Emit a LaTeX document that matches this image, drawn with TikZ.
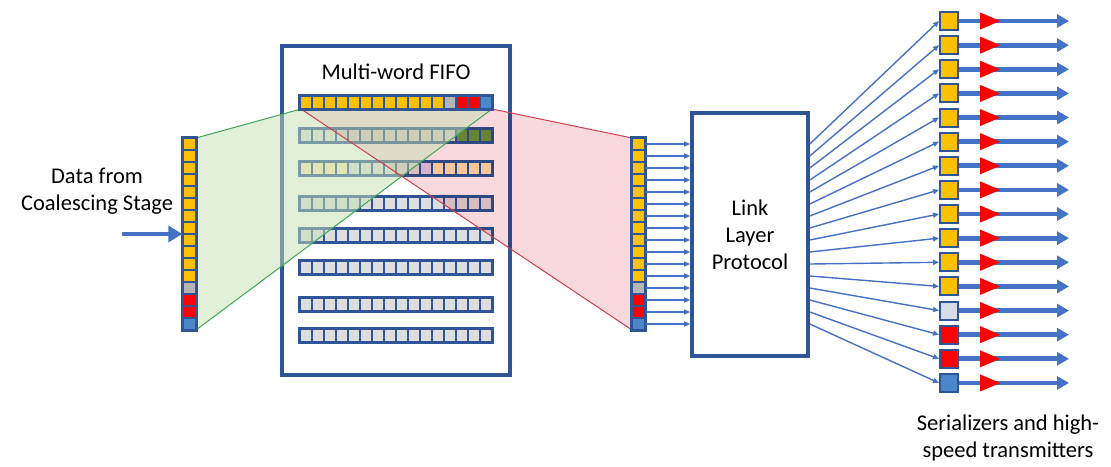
\documentclass[tikz,border=0pt]{standalone}
\usepackage{fontspec}
\setmainfont{Carlito}
\usetikzlibrary{arrows.meta,shapes.geometric}
\definecolor{navy}{HTML}{2F5597}
\definecolor{orng}{HTML}{FFC000}
\definecolor{gry}{HTML}{B4B4B4}
\definecolor{lgry}{HTML}{DEDEDE}
\definecolor{rd}{HTML}{FF0000}
\definecolor{bl}{HTML}{4A86C8}
\definecolor{arrowblue}{HTML}{4472C4}
\definecolor{olive}{HTML}{6A9A3C}
\definecolor{paleor}{HTML}{FFE9B5}
\definecolor{lav}{HTML}{DCD0F0}
\definecolor{pinkfill}{HTML}{F9D9DD}
\definecolor{greenfill}{HTML}{C5E0B4}
\definecolor{greenline}{HTML}{3FA656}
\definecolor{redline}{HTML}{D0404F}
\definecolor{slateg}{HTML}{D6DCE5}
\tikzset{
  colcell/.style={draw=navy, line width=1.4pt, inner sep=0pt, minimum width=13pt, minimum height=12pt},
  rowcell/.style={draw=navy, line width=1.4pt, inner sep=0pt, minimum width=12pt, minimum height=13pt},
  sercell/.style={draw=navy, line width=2pt, inner sep=0pt, minimum width=18pt, minimum height=18pt},
  frame/.style={draw=navy, line width=2.2pt},
  bigbox/.style={draw=navy, line width=3.6pt, fill=white, inner sep=0pt},
  thinarrow/.style={draw=arrowblue, line width=1.4pt, -{Triangle[length=6pt,width=5pt]}},
  fatarrow/.style={draw=arrowblue, line width=4.8pt, -{Triangle[length=12pt,width=13pt]}},
  lbl/.style={font=\fontsize{22.5}{27}\selectfont, align=center, inner sep=0pt},
}
\begin{document}
\begin{tikzpicture}[x=1pt,y=-1pt]
\useasboundingbox (0,0) rectangle (1111,466);
% FIFO box
\node[bigbox, minimum width=228pt, minimum height=329pt] (fifo) at (396,210.5) {};
\node[lbl] (fifolabel) at (396,72) {Multi-word FIFO};
% FIFO rows 2..8
\foreach \r/\t/\cols in {
  2/129/{lgry,lgry,lgry,lgry,lgry,lgry,lgry,lgry,lgry,lgry,lgry,lgry,lgry,olive,olive,olive},
  3/162/{paleor,paleor,paleor,paleor,lgry,lgry,lgry,lgry,lgry,lgry,lav,paleor,paleor,paleor,paleor,paleor},
  4/197/{lgry,lgry,lgry,lgry,lgry,lgry,lgry,lgry,lgry,lgry,lgry,lgry,lgry,lgry,lgry,lgry},
  5/229/{lgry,lgry,lgry,lgry,lgry,lgry,lgry,lgry,lgry,lgry,lgry,lgry,lgry,lgry,lgry,lgry},
  6/261/{lgry,lgry,lgry,lgry,lgry,lgry,lgry,lgry,lgry,lgry,lgry,lgry,lgry,lgry,lgry,lgry},
  7/298/{lgry,lgry,lgry,lgry,lgry,lgry,lgry,lgry,lgry,lgry,lgry,lgry,lgry,lgry,lgry,lgry},
  8/329/{lgry,lgry,lgry,lgry,lgry,lgry,lgry,lgry,lgry,lgry,lgry,lgry,lgry,lgry,lgry,lgry}}{
  \foreach \c [count=\j] in \cols {
    \node[rowcell, fill=\c] (r\r c\j) at (294+12*\j, \t+6.5) {};
  }
  \draw[frame] (r\r c1.north west) rectangle (r\r c16.south east);
}
% corner coordinates of the projections
\coordinate (gA) at (196,138);
\coordinate (gB) at (196,330);
\coordinate (tL) at (301,109);
\coordinate (tR) at (492,109);
\coordinate (pA) at (632,138);
\coordinate (pB) at (632,330);
% pink projection (multiply)
\fill[pinkfill, blend mode=multiply] (tL) -- (tR) -- (pA) -- (pB) -- cycle;
% green projection
\fill[greenfill, fill opacity=0.5] (gA) -- (tL) -- (tR) -- (gB) -- cycle;
\draw[greenline, line width=1pt] (gA) -- (tL);
\draw[greenline, line width=1pt] (gB) -- (tR);
\draw[redline, line width=1pt] (tL) -- (pB);
\draw[redline, line width=1pt] (tR) -- (pA);
% FIFO row 1
\foreach \c [count=\j] in {orng,orng,orng,orng,orng,orng,orng,orng,orng,orng,orng,orng,gry,rd,rd,bl} {
  \node[rowcell, fill=\c] (r1c\j) at (294+12*\j, 102.5) {};
}
\draw[frame] (r1c1.north west) rectangle (r1c16.south east);
% left and middle columns
\foreach \c [count=\i] in {orng,orng,orng,orng,orng,orng,orng,orng,orng,orng,orng,orng,gry,rd,rd,bl} {
  \node[colcell, fill=\c] (L\i) at (189.5, 132+12*\i) {};
  \node[colcell, fill=\c] (M\i) at (638.5, 132+12*\i) {};
}
\draw[frame] (L1.north west) rectangle (L16.south east);
\draw[frame] (M1.north west) rectangle (M16.south east);
% input
\node[lbl] (datalabel) at (97,191) {Data from\\Coalescing Stage};
\coordinate (in) at (122,234);
\draw[draw=arrowblue, line width=4.8pt, -{Triangle[length=14pt,width=16pt]}] (in) -- (in -| L1.west);
% link layer protocol
\node[bigbox, minimum width=116pt, minimum height=243pt, lbl] (llp) at (750,234.5) {Link\\Layer\\Protocol};
\foreach \i in {1,...,16} {
  \draw[thinarrow] (M\i.east) -- (M\i.east -| llp.west);
}
% serializers
\foreach \c [count=\i] in {orng,orng,orng,orng,orng,orng,orng,orng,orng,orng,orng,orng,slateg,rd,rd,bl} {
  \node[sercell, fill=\c] (S\i) at (949, 21+24.13*\i-24.13) {};
  \draw[thinarrow] (llp.east |- M\i) -- (S\i.west);
  \path (S\i.east) ++(110,0) coordinate (T\i);
  \draw[fatarrow] (S\i.east) -- (T\i);
  \node[isosceles triangle, isosceles triangle stretches, fill=rd, inner sep=0pt,
        minimum height=20pt, minimum width=17pt, anchor=west] (D\i) at (980, 21+24.13*\i-24.13) {};
}
\node[lbl] (serlabel) at (1008,438) {Serializers and high-\\speed transmitters};
\end{tikzpicture}
\end{document}
